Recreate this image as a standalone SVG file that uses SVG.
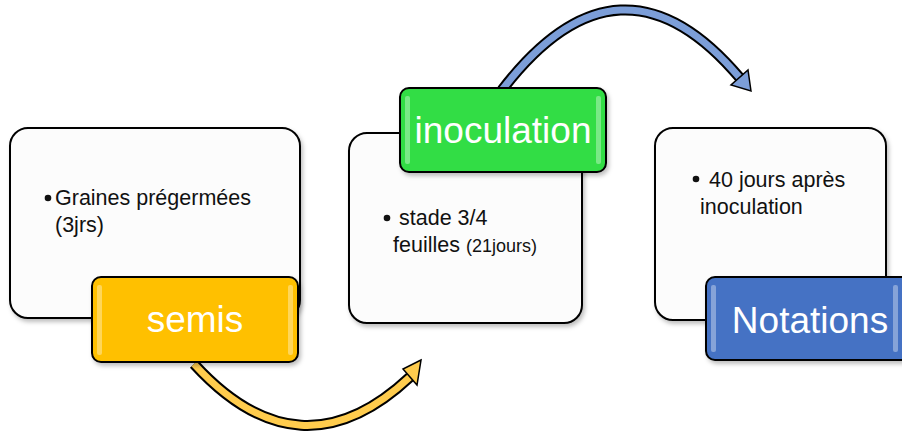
<svg xmlns="http://www.w3.org/2000/svg" width="902" height="433" viewBox="0 0 902 433">
<defs>
<style>
.box{fill:#fcfcfc;stroke:#000;stroke-width:2}
.lbl{stroke:#000;stroke-width:2}
.hl{fill:#fff;opacity:0.35}
.t{font-family:"Liberation Sans",Arial,sans-serif;fill:#111;font-size:21.5px}
.lt{font-family:"Liberation Sans",Arial,sans-serif;fill:#fff;font-size:37px;text-anchor:middle}
.out{fill:none;stroke:#000;stroke-width:11;stroke-linecap:butt}
.head{stroke:#000;stroke-width:1.5;stroke-linejoin:miter}
</style>
<filter id="sh" x="-10%" y="-10%" width="130%" height="130%">
<feDropShadow dx="2" dy="3" stdDeviation="2" flood-color="#000" flood-opacity="0.25"/>
</filter>
</defs>
<g id="connectors">
<g id="arrow-semis-inoculation">
<path class="out" d="M194,364 Q300,480 410,377"/>
<path d="M194,364 Q300,480 410,377" fill="none" stroke="#FFCC4D" stroke-width="7"/>
<polygon class="head" fill="#FFCC4D" points="421,360 403,369 417,385"/>
</g>
<g id="arrow-inoculation-notations">
<path class="out" d="M502,90 Q620,-64 740,78"/>
<path d="M502,90 Q620,-64 740,78" fill="none" stroke="#7C9ED8" stroke-width="7"/>
<polygon class="head" fill="#7C9ED8" points="751,91 748,70 731,85"/>
</g>
</g>
<g id="node-semis">
<rect class="box" x="10" y="128" width="290" height="190" rx="18" filter="url(#sh)"/>
<circle cx="48" cy="198" r="3.3" fill="#111"/>
<text class="t" x="55" y="205">Graines prégermées</text>
<text class="t" x="55" y="232">(3jrs)</text>
<rect class="lbl" x="92" y="277" width="206" height="85" rx="9" fill="#FFC000" filter="url(#sh)"/>
<rect class="hl" x="97" y="285" width="5" height="70" rx="2"/>
<rect class="hl" x="288" y="285" width="5" height="70" rx="2"/>
<text class="lt" x="195" y="332">semis</text>
</g>
<g id="node-inoculation">
<rect class="box" x="349" y="133" width="233" height="190" rx="18" filter="url(#sh)"/>
<circle cx="387" cy="218" r="3.3" fill="#111"/>
<text class="t" x="399" y="225">stade 3/4</text>
<text class="t" x="393" y="252">feuilles <tspan font-size="18">(21jours)</tspan></text>
<rect class="lbl" x="400" y="88" width="206" height="84" rx="9" fill="#33DD44" filter="url(#sh)"/>
<rect class="hl" x="405" y="96" width="5" height="68" rx="2"/>
<rect class="hl" x="596" y="96" width="5" height="68" rx="2"/>
<text class="lt" x="503" y="143">inoculation</text>
</g>
<g id="node-notations">
<rect class="box" x="655" y="128" width="231" height="192" rx="18" filter="url(#sh)"/>
<circle cx="696" cy="179" r="3.3" fill="#111"/>
<text class="t" x="709" y="187">40 jours après</text>
<text class="t" x="700" y="214">inoculation</text>
<rect class="lbl" x="706" y="277" width="206" height="83" rx="9" fill="#4472C4" filter="url(#sh)"/>
<rect class="hl" x="711" y="285" width="5" height="67" rx="2"/>
<rect class="hl" x="893" y="285" width="5" height="67" rx="2"/>
<text class="lt" x="810" y="333">Notations</text>
</g>
</svg>
